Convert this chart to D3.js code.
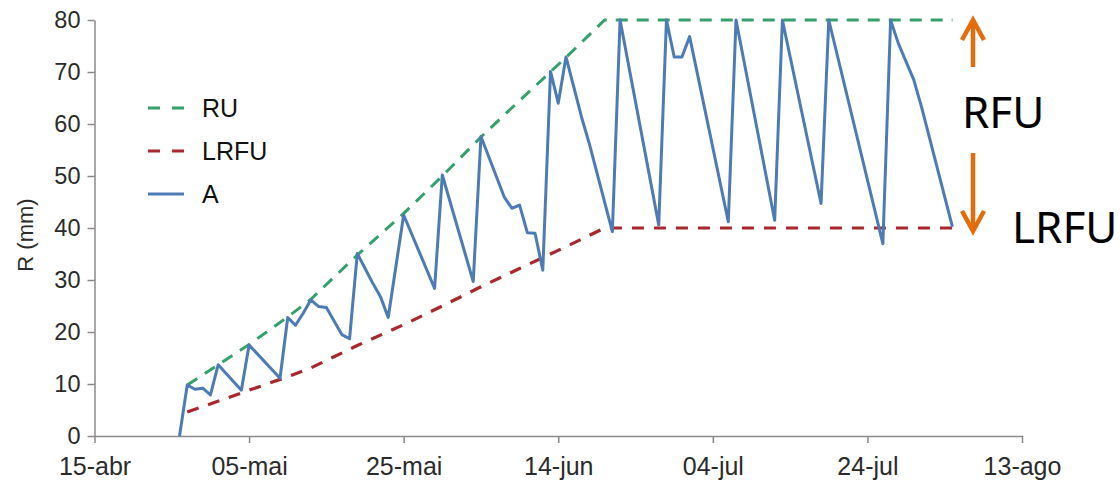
<!DOCTYPE html>
<html>
<head>
<meta charset="utf-8">
<script src="https://cdn.jsdelivr.net/npm/d3@7"></script>
<style>
  body { margin: 0; background: #fff; }
  svg { display: block; }
</style>
</head>
<body>
<script>
// chart data (year is arbitrary, only day-month shown)
const ruDates = ["2013-04-27", "2013-05-05", "2013-05-10", "2013-05-13", "2013-05-19", "2013-05-25",
  "2013-05-30", "2013-06-04", "2013-06-09", "2013-06-15", "2013-06-20", "2013-08-04"]
const ruValues = [9.8, 17.6, 22.9, 26.3, 34.8, 42.8, 50.0, 57.5, 64.5, 72.8, 80, 80]

const lrfuDates = ruDates
const lrfuValues = [4.6, 8.8, 11.4, 13.1, 17.4, 21.4, 25.0, 28.7, 32.2, 36.4, 40, 40]

const aDates = ["2013-04-26", "2013-04-27", "2013-04-28", "2013-04-29", "2013-04-30", "2013-05-01",
  "2013-05-04", "2013-05-05", "2013-05-09", "2013-05-10", "2013-05-11", "2013-05-12", "2013-05-13",
  "2013-05-14", "2013-05-15", "2013-05-17", "2013-05-18", "2013-05-19", "2013-05-21", "2013-05-22",
  "2013-05-23", "2013-05-25", "2013-05-29", "2013-05-30", "2013-06-03", "2013-06-04", "2013-06-07",
  "2013-06-08", "2013-06-09", "2013-06-10", "2013-06-11", "2013-06-12", "2013-06-13", "2013-06-14",
  "2013-06-15", "2013-06-17", "2013-06-18", "2013-06-21", "2013-06-22", "2013-06-27", "2013-06-28",
  "2013-06-29", "2013-06-30", "2013-07-01", "2013-07-06", "2013-07-07", "2013-07-12", "2013-07-13",
  "2013-07-18", "2013-07-19", "2013-07-26", "2013-07-27", "2013-07-28", "2013-07-30", "2013-07-31",
  "2013-08-04"]
const aValues = [0, 9.8, 9.0, 9.2, 7.9, 13.7,
  8.8, 17.5, 11.1, 22.8, 21.3, 23.6, 26.2,
  24.9, 24.7, 19.5, 18.7, 35.1, 29.4, 26.8,
  22.8, 42.5, 28.4, 50.2, 29.7, 57.6, 46.0,
  43.8, 44.4, 39.1, 39.0, 31.9, 70.1, 64.0,
  72.9, 61.4, 56.3, 39.3, 80, 40.6, 80,
  72.9, 72.9, 76.8, 41.2, 80, 41.5, 80,
  44.7, 80, 37.0, 80, 75.5, 68.5, 63.3,
  40.2]

const xTickDates = ["2013-04-15", "2013-05-05", "2013-05-25", "2013-06-14", "2013-07-04", "2013-07-24", "2013-08-13"]
const xTickLabels = ["15-abr", "05-mai", "25-mai", "14-jun", "04-jul", "24-jul", "13-ago"]
const yTicks = [0, 10, 20, 30, 40, 50, 60, 70, 80]

const legendNames = ["RU", "LRFU", "A"]
const seriesColors = ["#35a06c", "#a8282d", "#4c7bb6"]

const parse = d3.timeParse("%Y-%m-%d")

const W = 1120, H = 480

const svg = d3.select("body").append("svg")
    .attr("width", W)
    .attr("height", H)

const x = d3.scaleTime()
    .domain([parse(xTickDates[0]), parse(xTickDates[xTickDates.length - 1])])
    .range([94.5, 1022])

const y = d3.scaleLinear()
    .domain([0, 80])
    .range([436, 20])

// axes
const xAxis = svg.append("g")
    .attr("transform", `translate(0,${y(0)})`)
    .call(d3.axisBottom(x)
        .tickValues(xTickDates.map(parse))
        .tickFormat((d, i) => xTickLabels[i])
        .tickSize(7)
        .tickSizeOuter(0))

const yAxis = svg.append("g")
    .attr("transform", `translate(${x.range()[0]},0)`)
    .call(d3.axisLeft(y)
        .tickValues(yTicks)
        .tickSize(7)
        .tickSizeOuter(0))

svg.selectAll(".domain, .tick line")
    .attr("stroke", "#8a8a8a")
    .attr("stroke-width", 1.5)

xAxis.selectAll("text")
    .attr("y", 21)
    .attr("dy", "0.71em")
    .attr("font-family", "Liberation Sans, Arial, sans-serif")
    .attr("font-size", "25px")
    .attr("fill", "#2b2b2b")

yAxis.selectAll("text")
    .attr("x", -14)
    .attr("font-family", "Liberation Sans, Arial, sans-serif")
    .attr("font-size", "23.5px")
    .attr("fill", "#2b2b2b")

// y axis title
svg.append("text")
    .attr("transform", "translate(33,235) rotate(-90)")
    .attr("text-anchor", "middle")
    .attr("font-family", "Liberation Sans, Arial, sans-serif")
    .attr("font-size", "22px")
    .attr("fill", "#2b2b2b")
    .text("R (mm)")

const line = d3.line()
    .x(d => x(d[0]))
    .y(d => y(d[1]))

const ruData = ruDates.map((d, i) => [parse(d), ruValues[i]])
const lrfuData = lrfuDates.map((d, i) => [parse(d), lrfuValues[i]])
const aData = aDates.map((d, i) => [parse(d), aValues[i]])

svg.append("path")
    .datum(ruData)
    .attr("fill", "none")
    .attr("stroke", seriesColors[0])
    .attr("stroke-width", 3)
    .attr("stroke-dasharray", "12,9")
    .attr("d", line)

svg.append("path")
    .datum(lrfuData)
    .attr("fill", "none")
    .attr("stroke", seriesColors[1])
    .attr("stroke-width", 3.2)
    .attr("stroke-dasharray", "12,10")
    .attr("d", line)

svg.append("path")
    .datum(aData)
    .attr("fill", "none")
    .attr("stroke", seriesColors[2])
    .attr("stroke-width", 3)
    .attr("stroke-linejoin", "round")
    .attr("d", line)

// legend
const legend = svg.append("g")
const legendY = [108, 151, 194]
legendNames.forEach((name, i) => {
    legend.append("line")
        .attr("x1", 148).attr("x2", 184)
        .attr("y1", legendY[i]).attr("y2", legendY[i])
        .attr("stroke", seriesColors[i])
        .attr("stroke-width", 3)
        .attr("stroke-dasharray", i < 2 ? "12,12" : null)
    legend.append("text")
        .attr("x", 202)
        .attr("y", legendY[i] + 9)
        .attr("font-family", "Liberation Sans, Arial, sans-serif")
        .attr("font-size", "25px")
        .attr("fill", "#111")
        .text(name)
})

// RFU / LRFU annotation with orange arrows
const orange = "#e46c0a"
const ax = 973
const arrows = svg.append("g")
    .attr("stroke", orange)
    .attr("stroke-width", 4.5)
    .attr("fill", "none")
    .attr("stroke-linecap", "butt")

arrows.append("line").attr("x1", ax).attr("x2", ax).attr("y1", 67).attr("y2", 20)
arrows.append("polyline").attr("points", `${ax - 11},40 ${ax},20 ${ax + 11},40`)
arrows.append("line").attr("x1", ax).attr("x2", ax).attr("y1", 153).attr("y2", 231)
arrows.append("polyline").attr("points", `${ax - 11},211 ${ax},231 ${ax + 11},211`)

svg.append("text")
    .attr("x", 962)
    .attr("y", 128)
    .attr("font-family", "Noto Sans, Open Sans, sans-serif")
    .attr("font-size", "44px")
    .attr("fill", "#000")
    .text("RFU")

svg.append("text")
    .attr("x", 1012)
    .attr("y", 243)
    .attr("font-family", "Noto Sans, Open Sans, sans-serif")
    .attr("font-size", "44px")
    .attr("fill", "#000")
    .text("LRFU")
</script>
</body>
</html>
